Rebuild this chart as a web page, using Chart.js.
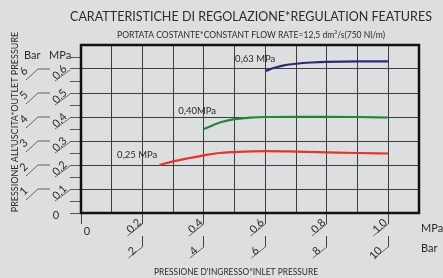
<!DOCTYPE html>
<html>
<head>
<meta charset="utf-8">
<script src="https://cdn.jsdelivr.net/npm/chart.js@4/dist/chart.umd.min.js"></script>
<style>
  html, body { margin: 0; padding: 0; background: #dddee0; }
  #wrap { width: 443px; height: 278px; }
</style>
</head>
<body>
<div id="wrap"><canvas id="chart"></canvas></div>
<script>
// inlet pressure (MPa) -> outlet pressure (MPa)
const inlet025 = [0.255, 0.30, 0.35, 0.40, 0.45, 0.50, 0.60, 0.70, 0.80, 0.90, 1.00];
const outlet025 = [0.200, 0.215, 0.228, 0.240, 0.250, 0.254, 0.258, 0.256, 0.253, 0.250, 0.248];
const inlet040 = [0.40, 0.43, 0.46, 0.50, 0.55, 0.60, 0.70, 0.80, 0.90, 1.00];
const outlet040 = [0.350, 0.366, 0.380, 0.391, 0.397, 0.400, 0.401, 0.401, 0.400, 0.398];
const inlet063 = [0.60, 0.63, 0.66, 0.70, 0.75, 0.80, 0.90, 1.00];
const outlet063 = [0.592, 0.605, 0.615, 0.622, 0.627, 0.630, 0.632, 0.632];

const seriesNames = ['0,25 MPa', '0,40MPa', '0,63 MPa'];
const seriesColors = ['#e8322b', '#1e8a3e', '#2d2878'];
// where each curve name sits, in axis units (inlet, outlet)
const nameAt = [[0.183, 0.242], [0.378, 0.425], [0.567, 0.642]];

// tick labels
const xTickValues = [0.2, 0.4, 0.6, 0.8, 1.0];
const xTickMpa = ['0.2', '0.4', '0.6', '0.8', '1.0'];
const xTickBar = ['2', '4', '6', '8', '10'];
const yTickValues = [0.1, 0.2, 0.3, 0.4, 0.5, 0.6];
const yTickMpa = ['0.1', '0.2', '0.3', '0.4', '0.5', '0.6'];
const yTickBar = ['1', '2', '3', '4', '5', '6'];

const titleText = 'CARATTERISTICHE DI REGOLAZIONE*REGULATION FEATURES';
const subtitleText = 'PORTATA COSTANTE*CONSTANT FLOW RATE=12,5 dm\u00B3/s(750 Nl/m)';
const xTitle = "PRESSIONE D'INGRESSO*INLET PRESSURE";
const yTitle = "PRESSIONE ALL'USCITA*OUTLET PRESSURE";

const FONT = 'Lato, "Open Sans", sans-serif';
const INK = '#2b2b2b';
const GRID = '#3e3e3e';

function pts(xs, ys) {
    return xs.map((x, i) => ({ x: x, y: ys[i] }));
}
function idxOf(list, v) {
    return list.findIndex(t => Math.abs(t - v) < 1e-6);
}

const decor = {
    id: 'decor',
    afterDraw(chart) {
        const c = chart.ctx;
        const a = chart.chartArea;
        const xs = chart.scales.x, ys = chart.scales.y;
        c.save();

        // plot frame
        c.strokeStyle = '#111';
        c.lineWidth = 2.5;
        c.strokeRect(a.left, a.top, a.right - a.left, a.bottom - a.top);

        // leader lines under the slanted tick labels
        c.strokeStyle = '#444';
        c.lineWidth = 0.8;
        c.beginPath();
        xTickValues.forEach(v => {
            const px = xs.getPixelForValue(v);
            c.moveTo(px, a.bottom + 11); c.lineTo(px - 15, a.bottom + 23);
            c.moveTo(px, a.bottom + 34); c.lineTo(px - 14, a.bottom + 45);
        });
        yTickValues.forEach(v => {
            const py = ys.getPixelForValue(v);
            c.moveTo(a.left - 11, py + 1); c.lineTo(a.left - 26, py + 12);
            c.moveTo(a.left - 31, py); c.lineTo(a.left - 43, py);
            c.lineTo(a.left - 55, py + 11);
        });
        c.stroke();

        // titles
        c.fillStyle = INK;
        c.textAlign = 'center';
        c.textBaseline = 'middle';
        c.font = '13.5px ' + FONT;
        c.fillText(titleText, 251, 17, 362);
        c.font = '9px ' + FONT;
        c.fillText(subtitleText, 251, 35, 268);
        c.fillText(xTitle, 236, 272, 164);
        c.save();
        c.translate(15, 122);
        c.rotate(-Math.PI / 2);
        c.fillText(yTitle, 0, 0, 189);
        c.restore();

        // units and zeros
        c.font = '11px ' + FONT;
        c.textAlign = 'left';
        c.fillText('Bar', 24, 55);
        c.fillText('MPa', 49, 55);
        c.fillText('MPa', 421, 228);
        c.fillText('Bar', 421, 248);
        c.textAlign = 'center';
        c.fillText('0', a.left - 25, ys.getPixelForValue(0) + 2);
        c.fillText('0', xs.getPixelForValue(0) + 6, a.bottom + 18);

        // curve names
        c.font = '9.5px ' + FONT;
        seriesNames.forEach((n, i) => {
            c.fillText(n, xs.getPixelForValue(nameAt[i][0]), ys.getPixelForValue(nameAt[i][1]));
        });
        c.restore();
    }
};

const tickFont = { family: FONT, size: 11 };

new Chart(document.getElementById('chart'), {
    type: 'scatter',
    data: {
        datasets: [
            { data: pts(inlet025, outlet025), borderColor: seriesColors[0] },
            { data: pts(inlet040, outlet040), borderColor: seriesColors[1] },
            { data: pts(inlet063, outlet063), borderColor: seriesColors[2] }
        ]
    },
    options: {
        responsive: true,
        maintainAspectRatio: false,
        animation: false,
        showLine: true,
        layout: { padding: { top: 45, right: 24, bottom: 17, left: 18 } },
        elements: {
            point: { radius: 0 },
            line: { borderWidth: 2.2, tension: 0.3, cubicInterpolationMode: 'monotone' }
        },
        plugins: { legend: { display: false }, tooltip: { enabled: false } },
        scales: {
            x: {
                type: 'linear', min: 0, max: 1.1, position: 'bottom', weight: 0,
                border: { display: false },
                grid: {
                    color: GRID, lineWidth: 1, tickLength: 11,
                    tickColor: ctx => (idxOf(xTickValues, ctx.tick.value) >= 0 || ctx.tick.value === 0) ? '#444' : 'rgba(0,0,0,0)'
                },
                ticks: {
                    stepSize: 0.1, autoSkip: false, minRotation: 45, maxRotation: 45,
                    padding: -8, labelOffset: -3, color: INK, font: tickFont,
                    callback: v => { const i = idxOf(xTickValues, v); return i < 0 ? '' : xTickMpa[i]; }
                },
                afterFit: s => { s.height = 23; s.paddingLeft = 0; s.paddingRight = 0; }
            },
            x2: {
                type: 'linear', min: 0, max: 1.1, position: 'bottom', weight: 1,
                border: { display: false },
                grid: {
                    drawOnChartArea: false, tickLength: 11,
                    tickColor: ctx => idxOf(xTickValues, ctx.tick.value) >= 0 ? '#444' : 'rgba(0,0,0,0)'
                },
                ticks: {
                    stepSize: 0.1, autoSkip: false, minRotation: 45, maxRotation: 45,
                    padding: -3, labelOffset: -8, color: INK, font: tickFont,
                    callback: v => { const i = idxOf(xTickValues, v); return i < 0 ? '' : xTickBar[i]; }
                },
                afterFit: s => { s.height = 25; s.paddingLeft = 0; s.paddingRight = 0; }
            },
            y: {
                type: 'linear', min: 0, max: 0.7, position: 'left', weight: 0,
                border: { display: false },
                grid: {
                    lineWidth: 1, tickLength: 11,
                    color: ctx => Math.round(ctx.tick.value * 20) % 2 === 0 ? GRID : 'rgba(0,0,0,0)',
                    tickColor: ctx => ctx.tick.value > 0.68 ? 'rgba(0,0,0,0)' : '#555'
                },
                ticks: {
                    stepSize: 0.05, autoSkip: false, minRotation: 45, maxRotation: 45,
                    padding: 5, labelOffset: -2, color: INK, font: tickFont,
                    callback: v => { const i = idxOf(yTickValues, v); return i < 0 ? '' : yTickMpa[i]; }
                },
                afterFit: s => { s.width = 36; s.paddingTop = 0; s.paddingBottom = 0; }
            },
            y2: {
                type: 'linear', min: 0, max: 0.7, position: 'left', weight: 1,
                border: { display: false },
                grid: { display: false },
                ticks: {
                    stepSize: 0.05, autoSkip: false, minRotation: 45, maxRotation: 45,
                    padding: 11, labelOffset: 0, color: INK, font: tickFont,
                    callback: v => { const i = idxOf(yTickValues, v); return i < 0 ? '' : yTickBar[i]; }
                },
                afterFit: s => { s.width = 27; s.paddingTop = 0; s.paddingBottom = 0; }
            }
        }
    },
    plugins: [decor]
});
</script>
</body>
</html>
